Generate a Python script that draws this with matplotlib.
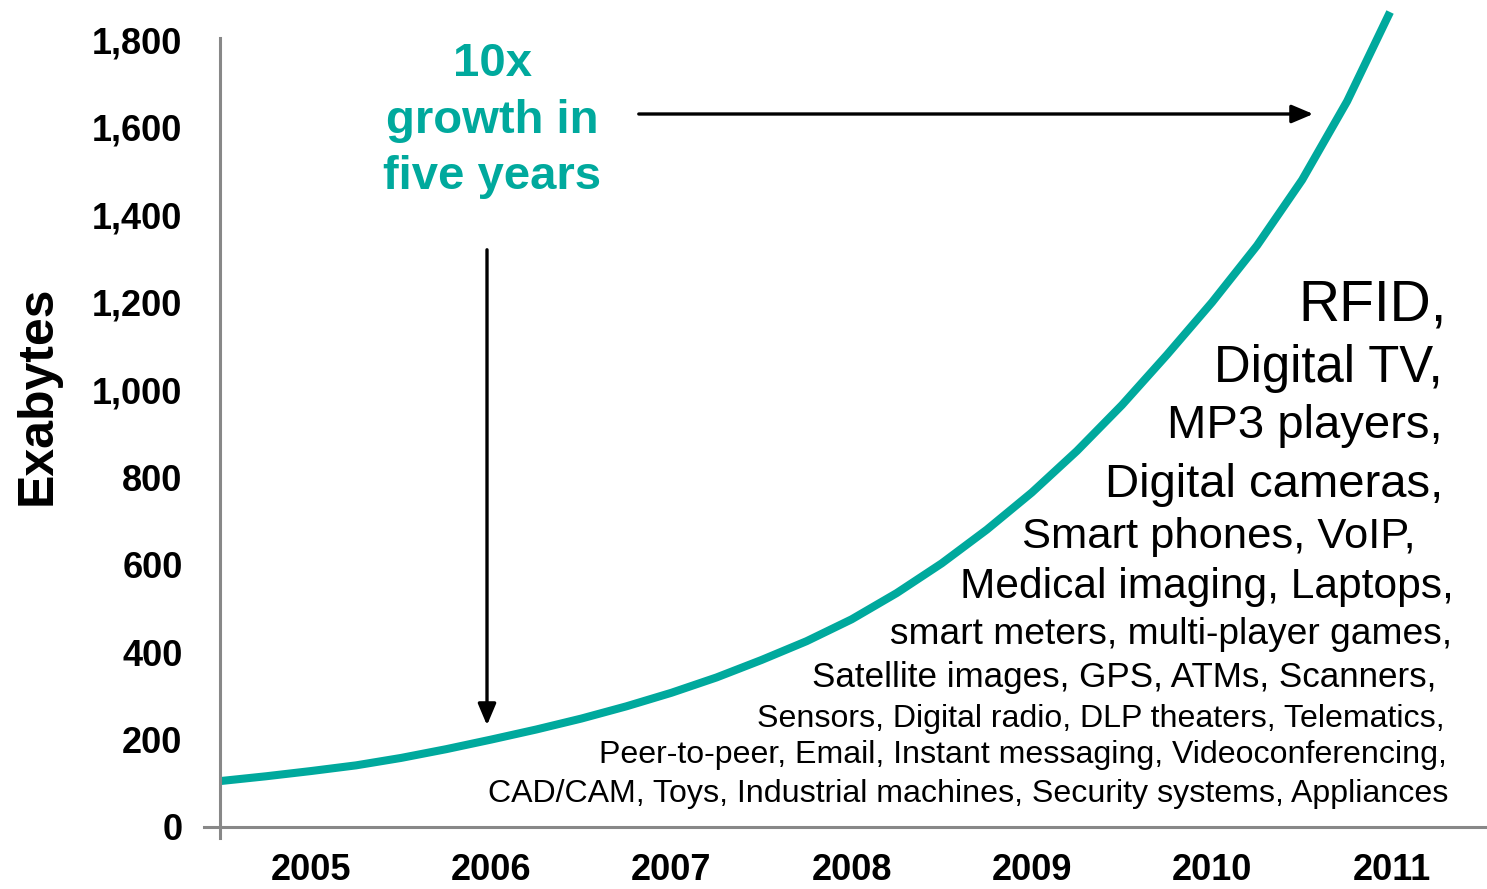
import matplotlib
matplotlib.use("Agg")

import matplotlib.pyplot as plt

plt.rcParams['font.family'] = ['Liberation Sans', 'DejaVu Sans']

# Datos (anio, exabytes)
anios = [2004.495, 2004.75, 2005.0, 2005.25, 2005.5, 2005.75, 2006.0, 2006.25,
         2006.5, 2006.75, 2007.0, 2007.25, 2007.5, 2007.75, 2008.0, 2008.25,
         2008.5, 2008.75, 2009.0, 2009.25, 2009.5, 2009.75, 2010.0, 2010.25,
         2010.5, 2010.75, 2010.988]
exabytes = [105, 116, 128, 141, 158, 178, 200, 223, 248, 276, 307, 342, 382,
            425, 475, 535, 603, 680, 765, 860, 965, 1080, 1200, 1330, 1480,
            1660, 1864]

anios_ticks = [2005, 2006, 2007, 2008, 2009, 2010, 2011]
valores_ticks = [0, 200, 400, 600, 800, 1000, 1200, 1400, 1600, 1800]

fuentes = ["RFID,", "Digital TV,", "MP3 players,", "Digital cameras,",
           "Smart phones, VoIP, ", "Medical imaging, Laptops,",
           "smart meters, multi-player games,",
           "Satellite images, GPS, ATMs, Scanners, ",
           "Sensors, Digital radio, DLP theaters, Telematics,",
           "Peer-to-peer, Email, Instant messaging, Videoconferencing,",
           "CAD/CAM, Toys, Industrial machines, Security systems, Appliances"]

# Estilo / layout de las lineas de texto (pixeles)
tamanos = [41, 36.6, 34, 34, 31.3, 30.6, 26.7, 25.2, 23.1, 23.1, 23.1]
bordes_der = [1447, 1443, 1443, 1443, 1428, 1454, 1452, 1446, 1445, 1447, 1448]
lineas_base = [320, 382, 438, 497, 548, 598, 644, 687, 727, 763, 802]

W, H = 1487, 889
teal = '#00A99D'
gris = '#888888'


def px(x, y):
    return (x / W, 1 - y / H)


fig = plt.figure(figsize=(W / 100, H / 100), dpi=100)
ax = fig.add_axes([204 / W, (H - 827) / H, 1 - 204 / W, 827 / H])

ax.plot(anios, exabytes, color=teal, lw=5.8, solid_capstyle='butt',
        solid_joinstyle='round')

ax.set_xlim(2004.406, 2011.526)
ax.set_ylim(0, 1891.5)

for s in ['top', 'right']:
    ax.spines[s].set_visible(False)
ax.spines['left'].set_position(('data', 2004.495))
ax.spines['left'].set_bounds(-25, 1805)
ax.spines['left'].set_color(gris)
ax.spines['left'].set_linewidth(2.2)
ax.spines['bottom'].set_color(gris)
ax.spines['bottom'].set_linewidth(2.2)
ax.spines['left'].set_clip_on(False)

ax.set_yticks(valores_ticks)
ax.set_yticklabels([f"{v:,}" for v in valores_ticks], fontsize=26, fontweight='bold')
ax.set_xticks(anios_ticks)
ax.set_xticklabels([str(a) for a in anios_ticks], fontsize=26, fontweight='bold')
ax.tick_params(axis='y', length=0, pad=27)
ax.tick_params(axis='x', length=0, pad=19)

fig.text(*px(38, 395), "Exabytes", rotation=90, ha='center', va='center',
         fontsize=36, fontweight='bold')

# Texto "10x growth in five years"
for txt, base in zip(["10x", "growth in", "five years"], [76, 133, 189]):
    fig.text(*px(492, base), txt, ha='center', va='baseline', color=teal,
             fontsize=34, fontweight='bold')

# Flechas
ax.annotate("", xy=px(1316, 114), xytext=px(636, 114),
            xycoords='figure fraction', textcoords='figure fraction',
            arrowprops=dict(arrowstyle='-|>,head_length=1.3,head_width=0.55',
                            color='black', lw=2.4))
ax.annotate("", xy=px(487, 728), xytext=px(487, 247),
            xycoords='figure fraction', textcoords='figure fraction',
            arrowprops=dict(arrowstyle='-|>,head_length=1.3,head_width=0.55',
                            color='black', lw=2.4))

for txt, t, xr, yb in zip(fuentes, tamanos, bordes_der, lineas_base):
    fig.text(*px(xr, yb), txt, ha='right', va='baseline', fontsize=t)

fig.savefig("out.png", dpi=100)
